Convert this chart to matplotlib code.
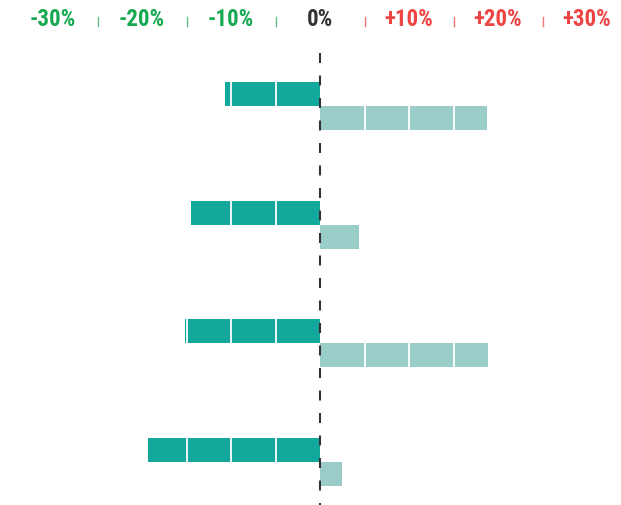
import matplotlib
matplotlib.use('Agg')
import matplotlib.pyplot as plt

# change per group, in percent
before = [-10.7, -14.5, -15.2, -19.3]
after = [18.8, 4.4, 18.9, 2.5]
tick_values = [-30, -20, -10, 0, 10, 20, 30]
tick_labels = ['-30%', '-20%', '-10%', '0%', '+10%', '+20%', '+30%']
minor_ticks = [-25, -15, -5, 5, 15, 25]

DARK = '#12a89b'
LIGHT = '#9acdc8'
GREEN = '#17a852'
RED = '#ee4444'
GREY = '#333333'

fig = plt.figure(figsize=(6.21, 5.06), dpi=100)
ax = fig.add_axes([0, 0, 1, 1])
ax.set_xlim(-35.96, 33.82)
ax.set_ylim(3.361, -0.901)
ax.axis('off')

h = 0.202
ys = range(len(before))
ax.barh([y - h / 2 for y in ys], before, height=h, color=DARK, zorder=2)
ax.barh([y + h / 2 for y in ys], after, height=h, color=LIGHT, zorder=2)

# white separators every 5%
grid = [v for v in range(-30, 35, 5) if v != 0]
ax.vlines(grid, -0.5, 3.4, color='white', lw=1.3, zorder=3)

# zero line
ax.plot([0, 0], [-0.446, 3.4], color=GREY, lw=1.5,
        linestyle=(0, (4.8, 6.0)), zorder=4)

font = dict(family=['Roboto Condensed', 'DejaVu Sans'],
            stretch='condensed', weight='bold', fontsize=16.5)
for v, lab in zip(tick_values, tick_labels):
    col = GREEN if v < 0 else RED if v > 0 else GREY
    ax.text(v, -0.735, lab, color=col, ha='center', va='center', **font)
for v in minor_ticks:
    col = '#5cc382' if v < 0 else '#f07878'
    ax.plot([v, v], [-0.752, -0.676], color=col, lw=1.0)

fig.savefig('out.png', dpi=100)
